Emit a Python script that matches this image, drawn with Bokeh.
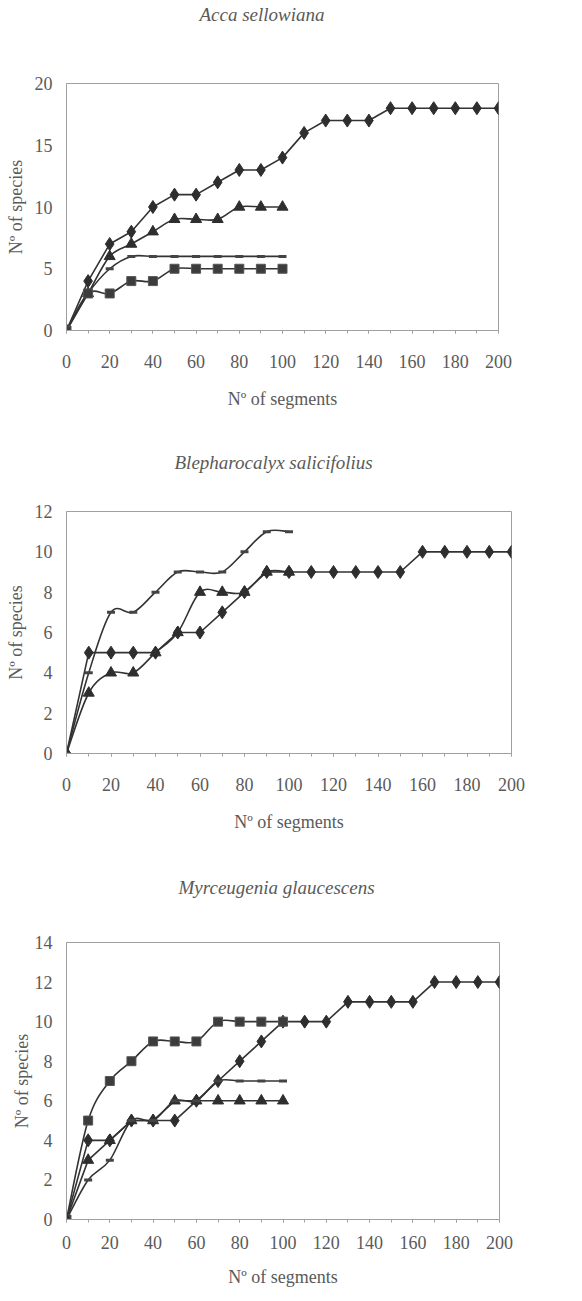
from bokeh.plotting import figure
from bokeh.layouts import column
from bokeh.models import Title, FixedTicker, Range1d
from bokeh.embed import file_html
from bokeh.resources import INLINE

# ---------------- data ----------------
seg_long = [0, 10, 20, 30, 40, 50, 60, 70, 80, 90, 100,
            110, 120, 130, 140, 150, 160, 170, 180, 190, 200]
seg_short = [0, 10, 20, 30, 40, 50, 60, 70, 80, 90, 100]

acca_diamond = [0, 4, 7, 8, 10, 11, 11, 12, 13, 13, 14, 16, 17, 17, 17, 18, 18, 18, 18, 18, 18]
acca_triangle = [0, 3, 6, 7, 8, 9, 9, 9, 10, 10, 10]
acca_dash = [0, 3, 5, 6, 6, 6, 6, 6, 6, 6, 6]
acca_square = [0, 3, 3, 4, 4, 5, 5, 5, 5, 5, 5]

bleph_diamond = [0, 5, 5, 5, 5, 6, 6, 7, 8, 9, 9, 9, 9, 9, 9, 9, 10, 10, 10, 10, 10]
bleph_triangle = [0, 3, 4, 4, 5, 6, 8, 8, 8, 9, 9]
bleph_dash = [0, 4, 7, 7, 8, 9, 9, 9, 10, 11, 11]

myrc_diamond = [0, 4, 4, 5, 5, 5, 6, 7, 8, 9, 10, 10, 10, 11, 11, 11, 11, 12, 12, 12, 12]
myrc_square = [0, 5, 7, 8, 9, 9, 9, 10, 10, 10, 10]
myrc_triangle = [0, 3, 4, 5, 5, 6, 6, 6, 6, 6, 6]
myrc_dash = [0, 2, 3, 5, 5, 6, 6, 7, 7, 7, 7]

x_ticks = [0, 20, 40, 60, 80, 100, 120, 140, 160, 180, 200]
acca_yticks = [0, 5, 10, 15, 20]
bleph_yticks = [0, 2, 4, 6, 8, 10, 12]
myrc_yticks = [0, 2, 4, 6, 8, 10, 12, 14]

# ---------------- style ----------------
FONT = "Liberation Serif"
TXT = "#5a5a5a"
LINE = "#333333"
MARK = "#2e2e2e"
FRAME = "#a0a0a0"


def smooth_line(p, xs, ys):
    """Draw the series as a smoothed (Excel-style) line with Bokeh's bezier glyph."""
    n = len(xs)
    x0, y0, x1, y1, cx0, cy0, cx1, cy1 = [], [], [], [], [], [], [], []
    for i in range(n - 1):
        a = max(i - 1, 0)
        d = min(i + 2, n - 1)
        x0.append(xs[i]); y0.append(ys[i])
        x1.append(xs[i + 1]); y1.append(ys[i + 1])
        cx0.append(xs[i] + (xs[i + 1] - xs[a]) / 6.0)
        cy0.append(ys[i] + (ys[i + 1] - ys[a]) / 6.0)
        cx1.append(xs[i + 1] - (xs[d] - xs[i]) / 6.0)
        cy1.append(ys[i + 1] - (ys[d] - ys[i]) / 6.0)
    p.bezier(x0=x0, y0=y0, x1=x1, y1=y1, cx0=cx0, cy0=cy0, cx1=cx1, cy1=cy1,
             line_color=LINE, line_width=1.6)


def make_panel(title, series, yticks, ymax, frame_w, frame_h,
               b_left, b_right, b_top, b_bottom, title_offset, title_gap,
               x_lab_standoff, x_axis_standoff, y_axis_standoff):
    p = figure(frame_width=frame_w, frame_height=frame_h,
               x_range=Range1d(0, 200), y_range=Range1d(0, ymax),
               output_backend="svg", toolbar_location=None,
               min_border_left=b_left, min_border_right=b_right,
               min_border_top=b_top, min_border_bottom=b_bottom,
               background_fill_color="white", border_fill_color="white")
    # blank spacer between the frame and the title
    p.add_layout(Title(text=" ", standoff=title_gap, text_font_size="1px",
                       text_color="white"), "above")
    p.add_layout(Title(text=title, align="left", offset=title_offset, standoff=0,
                       text_font=FONT, text_font_style="italic", text_font_size="19px",
                       text_color=TXT), "above")
    p.outline_line_color = FRAME
    p.outline_line_width = 1
    p.grid.visible = False

    xa = p.xaxis[0]
    xa.ticker = FixedTicker(ticks=x_ticks, minor_ticks=seg_long)
    xa.axis_label = "N\u00ba of segments"
    ya = p.yaxis[0]
    ya.ticker = FixedTicker(ticks=yticks)
    ya.axis_label = "N\u00ba of species"
    for ax in (xa, ya):
        ax.axis_line_color = FRAME
        ax.major_label_text_font = FONT
        ax.major_label_text_font_size = "18px"
        ax.major_label_text_color = TXT
        ax.axis_label_text_font = FONT
        ax.axis_label_text_font_size = "18px"
        ax.axis_label_text_font_style = "normal"
        ax.axis_label_text_color = TXT
        ax.major_tick_line_color = FRAME
        ax.minor_tick_line_color = FRAME
        ax.major_tick_in = 0
        ax.minor_tick_in = 0
    xa.major_tick_out = 3
    xa.minor_tick_out = 3
    xa.major_label_standoff = x_lab_standoff
    xa.axis_label_standoff = x_axis_standoff
    ya.major_tick_out = 0
    ya.minor_tick_line_color = None
    ya.major_tick_line_color = None
    ya.major_label_standoff = 14
    ya.axis_label_standoff = y_axis_standoff

    for xs, ys, kind, smooth in series:
        if smooth:
            smooth_line(p, xs, ys)
        else:
            p.line(xs, ys, line_color=LINE, line_width=1.6)
    for xs, ys, kind, smooth in series:
        if kind == "diamond":
            p.scatter(xs, ys, marker="diamond", size=13, fill_color=MARK, line_color=MARK)
        elif kind == "triangle":
            p.scatter(xs, ys, marker="triangle", size=11, fill_color=MARK, line_color=MARK)
        elif kind == "square":
            p.scatter(xs, ys, marker="square", size=9, fill_color="#3c3c3c", line_color="#555555")
        elif kind == "dash":
            p.rect(xs, ys, width=8, height=3, width_units="screen", height_units="screen",
                   fill_color="#444444", line_color=None)
    return p


p1 = make_panel("Acca sellowiana",
                [(seg_long, acca_diamond, "diamond", False),
                 (seg_short, acca_triangle, "triangle", True),
                 (seg_short, acca_dash, "dash", True),
                 (seg_short, acca_square, "square", True)],
                acca_yticks, 20, 432, 247, 58, 76, 83, 100, 133, 56, 21, 18, 6)

p2 = make_panel("Blepharocalyx salicifolius",
                [(seg_long, bleph_diamond, "diamond", False),
                 (seg_short, bleph_triangle, "triangle", True),
                 (seg_short, bleph_dash, "dash", True)],
                bleph_yticks, 12, 445, 242, 54, 67, 81, 107, 108, 36, 21, 18, 6)

p3 = make_panel("Myrceugenia glaucescens",
                [(seg_long, myrc_diamond, "diamond", False),
                 (seg_short, myrc_square, "square", True),
                 (seg_short, myrc_triangle, "triangle", False),
                 (seg_short, myrc_dash, "dash", True)],
                myrc_yticks, 14, 433, 277, 66, 67, 82, 70, 112, 42, 13, 15, 0)

layout = column(p1, p2, p3, spacing=0)
open("out.html", "w").write(file_html(layout, INLINE))
